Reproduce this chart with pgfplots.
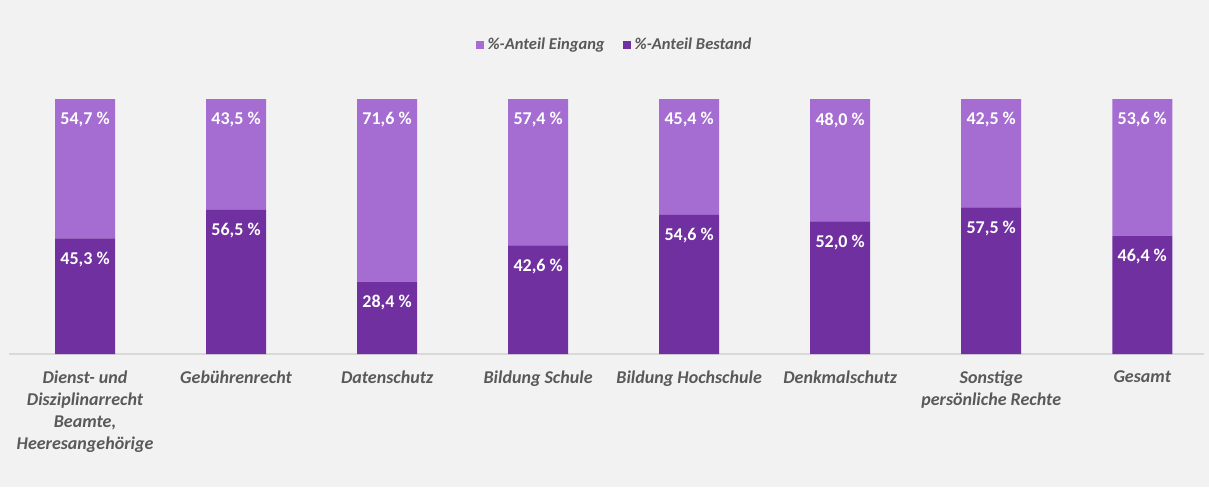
\documentclass[border=0pt]{standalone}
\usepackage{pgfplots}
\pgfplotsset{compat=1.18}
\usepackage{pgfplotstable}
\usepackage{fontspec}
\setmainfont{Carlito}
\definecolor{bg}{HTML}{F2F2F2}
\definecolor{dark}{HTML}{7030A0}
\definecolor{light}{HTML}{A56CD2}
\definecolor{txt}{HTML}{595959}
\pgfplotstableread{
x y lbl
0 45.3 {45,3 \%}
1 56.5 {56,5 \%}
2 28.4 {28,4 \%}
3 42.6 {42,6 \%}
4 54.6 {54,6 \%}
5 52.0 {52,0 \%}
6 57.5 {57,5 \%}
7 46.4 {46,4 \%}
}\bestand
\pgfplotstableread{
x y lbl
0 54.7 {54,7 \%}
1 43.5 {43,5 \%}
2 71.6 {71,6 \%}
3 57.4 {57,4 \%}
4 45.4 {45,4 \%}
5 48.0 {48,0 \%}
6 42.5 {42,5 \%}
7 53.6 {53,6 \%}
}\eingang
\begin{document}
\begin{tikzpicture}
\fill[bg] (0pt,0pt) rectangle (906.75pt,365.25pt);
\begin{axis}[
  at={(7.125pt,99.75pt)}, anchor=south west,
  scale only axis, width=896pt, height=191.25pt,
  xmin=-0.5, xmax=7.41, ymin=0, ymax=100,
  ybar stacked, bar width=45pt,
  axis x line=bottom, axis y line=none,
  x axis line style={-, draw=black!15, line width=0.9pt},
  xtick={0,...,7}, major tick length=0pt,
  xticklabels={{Dienst- und\\Disziplinarrecht\\Beamte,\\Heeresangehörige},Gebührenrecht,Datenschutz,Bildung Schule,Bildung Hochschule,Denkmalschutz,{Sonstige\\persönliche Rechte},Gesamt},
  xticklabel style={align=center, text=txt, font=\fontsize{13.5}{16.5}\selectfont\bfseries\itshape, yshift=-9pt},
  clip=false,
  point meta=explicit symbolic,
  visualization depends on={\thisrow{y} \as \segh},
  nodes near coords,
  every node near coord/.append style={anchor=center, yshift={0.95625pt*\segh-15.75pt}, text=white, font=\fontsize{13.5}{15}\selectfont\bfseries},
  legend columns=2, reverse legend,
  legend style={at={(axis description cs:0.507,1.212)}, anchor=center, draw=none, fill=none,
    font=\fontsize{12.4}{15}\selectfont\bfseries\itshape, text=txt,
    /tikz/every odd column/.append style={column sep=0.5pt},
    /tikz/every even column/.append style={column sep=12pt}},
  legend image code/.code={\fill[#1] (0pt,-3pt) rectangle (6pt,3pt);},
]
\addplot[fill=dark, draw=none] table[x=x, y=y, meta=lbl] {\bestand};
\addlegendentry{\%-Anteil Bestand}
\addplot[fill=light, draw=none] table[x=x, y=y, meta=lbl] {\eingang};
\addlegendentry{\%-Anteil Eingang}
\end{axis}
\end{tikzpicture}
\end{document}
